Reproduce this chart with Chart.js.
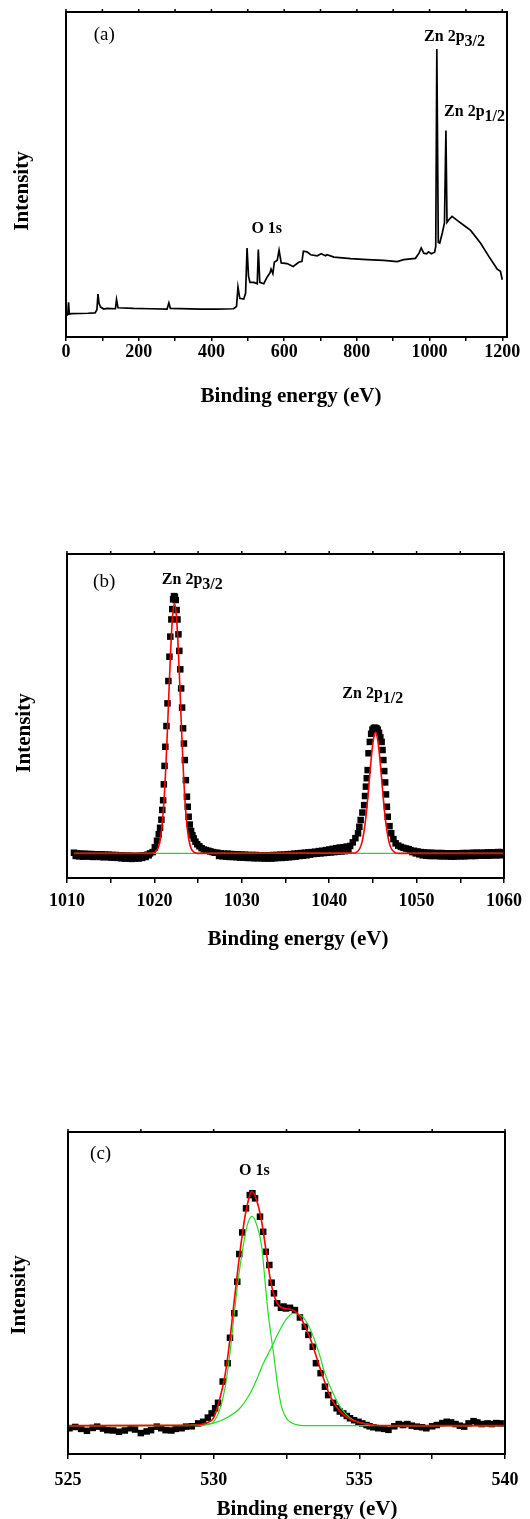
<!DOCTYPE html>
<html>
<head>
<meta charset="utf-8">
<script src="https://cdn.jsdelivr.net/npm/chart.js@4.4.1/dist/chart.umd.min.js"></script>
<style>
  html, body { margin: 0; padding: 0; background: #fff; overflow: hidden; }
  body { width: 530px; height: 1519px; position: relative; }
  canvas { position: absolute; left: 0; }
</style>
</head>
<body>
<canvas id="survey" width="530" height="420" style="top:0px"></canvas>
<canvas id="zn2p" width="530" height="480" style="top:480px"></canvas>
<canvas id="o1s" width="530" height="480" style="top:1060px"></canvas>
<script>
// (a) survey scan
const surveyEnergy = [0, 5, 7, 9, 16, 60, 80, 85, 88, 91, 95, 104, 113, 136, 139, 143, 186, 232, 278, 283,
  287, 370, 416, 461, 469, 473, 478, 489, 494, 498, 502, 506, 517, 526, 529, 533, 544, 553, 561, 564,
  569, 573, 581, 586, 592, 608, 625, 640, 649, 653, 663, 673, 691, 702, 714, 718, 737, 783, 828, 874,
  911, 929, 961, 971, 977, 984, 992, 997, 1005, 1014, 1017, 1020, 1024, 1028, 1035, 1041, 1045, 1048,
  1053, 1062, 1076, 1095, 1113, 1140, 1163, 1186, 1195, 1200];
const surveyCounts = [6.4, 6.9, 10.7, 7.1, 7.2, 7.3, 7.4, 8.4, 13.2, 10.3, 9.2, 8.6, 8.8, 8.7, 11.5, 9.0, 8.8, 8.7, 8.6, 10.5,
  8.8, 8.6, 8.6, 8.7, 9.4, 15.4, 11.9, 11.7, 13.5, 27.4, 18.7, 16.8, 16.8, 16.4, 26.9, 16.8, 16.4, 18.4, 19.7, 20.9,
  19.5, 23.0, 23.6, 26.7, 22.8, 22.6, 21.7, 23.0, 23.3, 26.4, 26.2, 25.3, 25.0, 25.6, 25.0, 25.3, 24.6, 24.1, 23.8, 23.6,
  23.2, 23.8, 24.2, 25.8, 27.4, 25.8, 25.6, 26.2, 25.6, 26.1, 27.9, 88.6, 29.1, 28.9, 32.0, 35.1, 63.5, 35.3,
  36.1, 37.1, 35.9, 34.3, 32.8, 28.9, 24.8, 20.9, 20.2, 17.6];
const surveyTicks = [0, 200, 400, 600, 800, 1000, 1200];

// (b) Zn 2p region: measured points
const zn2pEnergy = [
  1010.8, 1011.0, 1011.2, 1011.4, 1011.6, 1011.8, 1012.0, 1012.2, 1012.4, 1012.6, 1012.8, 1013.0,
  1013.2, 1013.4, 1013.6, 1013.8, 1014.0, 1014.2, 1014.4, 1014.6, 1014.8, 1015.0, 1015.2, 1015.4,
  1015.6, 1015.8, 1016.0, 1016.2, 1016.4, 1016.6, 1016.8, 1017.0, 1017.2, 1017.4, 1017.6, 1017.8,
  1018.0, 1018.2, 1018.4, 1018.6, 1018.8, 1019.0, 1019.2, 1019.35, 1019.5,
  1019.8, 1020.05, 1020.3, 1020.5, 1020.65, 1020.8, 1020.9, 1021.0, 1021.08, 1021.16, 1021.25, 1021.38,
  1021.5, 1021.6, 1021.72, 1021.82, 1021.94, 1022.04, 1022.14, 1022.24, 1022.34, 1022.44, 1022.54, 1022.64,
  1022.75, 1022.85, 1022.96, 1023.06, 1023.17, 1023.28, 1023.38, 1023.48, 1023.6, 1023.72, 1023.82, 1023.92,
  1024.05, 1024.2, 1024.35, 1024.5, 1024.7, 1024.9, 1025.15, 1025.4, 1025.65, 1025.9, 1026.15, 1026.4, 1026.65, 1026.9,
  1027.2, 1027.4, 1027.6, 1027.8, 1028.0, 1028.2, 1028.4, 1028.6, 1028.8, 1029.0, 1029.2, 1029.4,
  1029.6, 1029.8, 1030.0, 1030.2, 1030.4, 1030.6, 1030.8, 1031.0, 1031.2, 1031.4, 1031.6, 1031.8,
  1032.0, 1032.2, 1032.4, 1032.6, 1032.8, 1033.0, 1033.2, 1033.4, 1033.6, 1033.8, 1034.0, 1034.2,
  1034.4, 1034.6, 1034.8, 1035.0, 1035.2, 1035.4, 1035.6, 1035.8, 1036.0, 1036.2, 1036.4, 1036.6,
  1036.8, 1037.0, 1037.2, 1037.4, 1037.6, 1037.8, 1038.0, 1038.2, 1038.4, 1038.6, 1038.8, 1039.0,
  1039.2, 1039.4, 1039.6, 1039.8, 1040.0, 1040.2, 1040.4, 1040.6, 1040.8, 1041.0, 1041.2, 1041.4,
  1041.6, 1041.8, 1042.0, 1042.2, 1042.4, 1042.7, 1043.0, 1043.3, 1043.45, 1043.6,
  1043.8, 1044.0, 1044.1, 1044.2, 1044.3, 1044.4, 1044.5, 1044.65, 1044.8, 1044.95, 1045.1, 1045.25, 1045.4,
  1045.55, 1045.7, 1045.85, 1046.0, 1046.1, 1046.2, 1046.3, 1046.4, 1046.5, 1046.6, 1046.7, 1046.9, 1047.1,
  1047.35, 1047.6, 1047.9, 1048.2, 1048.5, 1048.8, 1049.1,
  1049.3, 1049.5, 1049.7, 1049.9, 1050.1, 1050.3, 1050.5, 1050.7, 1050.9, 1051.1, 1051.3, 1051.5,
  1051.7, 1051.9, 1052.1, 1052.3, 1052.5, 1052.7, 1052.9, 1053.1, 1053.3, 1053.5, 1053.7, 1053.9,
  1054.1, 1054.3, 1054.5, 1054.7, 1054.9, 1055.1, 1055.3, 1055.5, 1055.7, 1055.9, 1056.1, 1056.3,
  1056.5, 1056.7, 1056.9, 1057.1, 1057.3, 1057.5, 1057.7, 1057.9, 1058.1, 1058.3, 1058.5, 1058.7,
  1058.9, 1059.1, 1059.3, 1059.5, 1059.7, 1059.9];
const zn2pCounts = [
  7.8, 6.8, 7.6, 6.7, 7.5, 6.6, 7.5, 6.7, 7.4, 6.6, 7.4, 6.5,
  7.3, 6.6, 7.3, 6.5, 7.3, 6.4, 7.2, 6.5, 7.2, 6.3, 7.1, 6.3,
  7.1, 6.2, 7.0, 6.1, 7.0, 6.0, 6.9, 6.0, 6.9, 5.9, 6.8, 6.0,
  6.8, 6.0, 6.9, 6.2, 7.0, 6.5, 7.2, 7.0, 7.6,
  8.0, 9.5, 11.5, 13.5, 15.5, 18.0, 21.0, 24.0, 28.9, 34.6, 40.5, 46.9,
  53.9, 60.8, 68.3, 74.5, 79.8, 83.0, 86.0, 87.0, 86.8, 85.8, 82.7, 79.8,
  75.2, 70.1, 64.4, 58.5, 52.6, 46.2, 41.5, 36.4, 30.2, 25.1, 22.0, 18.9,
  16.5, 14.5, 13.2, 12.2, 11.2, 10.4, 9.8, 9.2, 8.8, 8.6, 8.4, 8.2, 8.0, 7.8,
  7.8, 6.8, 7.6, 6.7, 7.5, 6.6, 7.5, 6.5, 7.4, 6.5, 7.3, 6.4,
  7.3, 6.3, 7.2, 6.3, 7.2, 6.2, 7.1, 6.2, 7.1, 6.1, 7.1, 6.1,
  7.0, 6.1, 7.0, 6.0, 7.0, 6.0, 7.0, 6.0, 7.1, 6.1, 7.1, 6.2,
  7.2, 6.2, 7.2, 6.3, 7.3, 6.4, 7.4, 6.5, 7.5, 6.6, 7.6, 6.8,
  7.7, 6.9, 7.8, 7.0, 7.9, 7.2, 8.0, 7.4, 8.1, 7.5, 8.3, 7.6,
  8.4, 7.7, 8.6, 7.8, 8.8, 7.9, 9.0, 8.0, 9.2, 8.1, 9.4, 8.2,
  9.5, 8.3, 9.7, 8.4, 9.9, 11.0, 12.3, 13.8, 15.8, 17.9,
  20.2, 22.5, 25.3, 28.2, 30.8, 33.3, 38.5, 42.0, 44.5, 45.8, 46.3, 46.4, 46.2,
  45.8, 44.8, 43.4, 42.0, 39.5, 36.4, 33.0, 29.5, 25.8, 22.0, 18.9, 16.0, 13.8,
  12.0, 10.7, 10.0, 9.6, 9.3, 9.1, 8.9,
  8.6, 8.0, 8.4, 7.6, 8.2, 7.3, 8.0, 7.0, 7.9, 6.9, 7.8, 6.8,
  7.8, 6.8, 7.7, 6.8, 7.7, 6.7, 7.7, 6.7, 7.6, 6.7, 7.6, 6.6,
  7.6, 6.6, 7.6, 6.7, 7.6, 6.7, 7.7, 6.7, 7.7, 6.8, 7.7, 6.8,
  7.8, 6.8, 7.8, 6.9, 7.8, 6.9, 7.8, 6.9, 7.9, 6.9, 7.9, 7.0,
  7.9, 7.0, 8.0, 7.0, 8.0, 7.2];
// (b) fitted envelope and background
const zn2pFitEnergy = [1010.8, 1019.5, 1020.1, 1020.5, 1020.8, 1021.1, 1021.3, 1021.5, 1021.7, 1021.9, 1022.1,
  1022.3, 1022.5, 1022.7, 1022.9, 1023.1, 1023.3, 1023.5, 1023.8, 1024.1, 1024.5, 1025.0,
  1042.8, 1043.1, 1043.5, 1043.8, 1044.1, 1044.3, 1044.5, 1044.7, 1044.9, 1045.1, 1045.3, 1045.5, 1045.7,
  1045.9, 1046.1, 1046.3, 1046.5, 1046.8, 1047.1, 1047.5, 1048.0, 1060.0];
const zn2pFit = [7.6, 7.6, 8.0, 9.9, 14.4, 23.9, 33.8, 46.2, 59.9, 72.5, 81.5,
  84.8, 81.5, 72.5, 59.9, 46.2, 33.8, 23.9, 14.4, 9.9, 8.0, 7.6,
  7.7, 7.9, 9.1, 11.6, 16.6, 21.4, 27.4, 33.7, 39.4, 43.4, 44.9, 43.4, 39.4,
  33.7, 27.4, 21.4, 16.6, 11.6, 9.1, 7.9, 7.6, 7.6];
const zn2pBaseEnergy = [1010.8, 1060.0];
const zn2pBase = [7.6, 7.6];
const zn2pTicks = [1010, 1020, 1030, 1040, 1050, 1060];

// (c) O 1s region: measured points
const o1sEnergy = [
  525.05, 525.25, 525.45, 525.65, 525.85, 526.0, 526.2, 526.35, 526.55, 526.75, 526.95, 527.15, 527.3,
  527.5, 527.7, 527.85, 528.05, 528.2, 528.35, 528.55, 528.7, 528.9, 529.05, 529.25, 529.47, 529.64,
  529.8, 529.93, 530.05,
  530.15, 530.31, 530.48, 530.56, 530.71, 530.81, 530.88, 530.98, 531.11, 531.24, 531.33, 531.42, 531.59,
  531.7, 531.79, 531.91, 531.99, 532.07, 532.18, 532.31, 532.4, 532.48, 532.62, 532.79, 532.96, 533.13,
  533.25, 533.4, 533.51, 533.67, 533.82, 533.93, 534.11, 534.22, 534.33, 534.45, 534.57, 534.68, 534.82,
  534.97, 535.1, 535.25, 535.35, 535.48,
  535.65, 535.85, 536.0, 536.2, 536.35, 536.5, 536.65, 536.8, 536.97, 537.15, 537.3, 537.5, 537.66,
  537.85, 538.0, 538.15, 538.3, 538.45, 538.6, 538.75, 538.92, 539.05, 539.2, 539.4, 539.55, 539.7, 539.85];
const o1sCounts = [
  8.0, 8.4, 7.8, 7.2, 8.1, 8.5, 7.9, 7.4, 7.3, 6.9, 7.3, 8.0, 7.6,
  6.5, 7.0, 7.4, 8.5, 8.0, 7.4, 7.3, 7.8, 8.0, 8.5, 8.6, 9.5, 10.0,
  11.3, 12.6, 14.2,
  15.9, 22.5, 28.2, 36.1, 43.7, 53.5, 62.1, 68.8, 76.3, 80.4, 81.0, 79.4, 73.7,
  69.0, 62.8, 58.7, 53.2, 49.9, 46.8, 45.4, 45.8, 45.2, 45.4, 44.7, 42.4, 39.5,
  37.0, 33.3, 28.2, 25.1, 20.9, 18.3, 15.9, 14.2, 13.2, 12.6, 11.8, 11.1, 10.5,
  10.0, 9.5, 9.0, 8.6, 8.3,
  8.0, 7.8, 7.5, 8.6, 9.3, 9.0, 9.3, 8.8, 8.5, 8.3, 8.0, 8.6, 9.0,
  9.6, 10.0, 9.8, 9.3, 8.8, 8.5, 9.5, 10.2, 9.8, 9.3, 9.5, 9.3, 9.6, 9.5];
// (c) fitted envelope and its two components
const o1sFitEnergy = [525.0, 529.0, 529.5, 529.8, 530.0, 530.2, 530.4, 530.55, 530.67, 530.8, 530.95, 531.1,
  531.32, 531.5, 531.65, 531.8, 531.95, 532.1, 532.25, 532.45, 532.65, 532.8, 532.95, 533.15, 533.35,
  533.55, 533.75, 533.95, 534.15, 534.4, 534.7, 535.0, 535.4, 536.0, 540.0];
const o1sFit = [8.8, 8.9, 9.1, 9.8, 11.2, 16.8, 25.0, 35.0, 44.7, 55.0, 66.0, 75.0,
  81.5, 78.0, 72.0, 63.0, 54.0, 48.5, 46.0, 45.2, 44.9, 44.3, 42.8, 39.5, 35.0,
  29.5, 24.0, 19.0, 15.5, 12.7, 10.7, 9.8, 9.1, 8.8, 8.8];
const o1sPeakAEnergy = [525.0, 529.5, 529.8, 530.0, 530.2, 530.4, 530.58, 530.7, 530.84, 531.01, 531.15,
  531.32, 531.5, 531.65, 531.76, 531.87, 531.99, 532.07, 532.2, 532.35, 532.55, 532.8, 533.2, 540.0];
const o1sPeakA = [8.8, 8.8, 9.2, 10.0, 13.5, 21.0, 33.0, 43.0, 54.0, 64.4, 71.0,
  73.8, 70.5, 64.4, 54.0, 43.7, 35.4, 30.2, 21.0, 14.0, 10.5, 9.2, 8.8, 8.8];
const o1sPeakBEnergy = [525.0, 529.0, 529.5, 530.0, 530.5, 530.9, 531.2, 531.47, 531.7, 531.95, 532.27,
  532.5, 532.73, 532.9, 533.08, 533.25, 533.42, 533.65, 533.8, 534.0, 534.17, 534.34, 534.55, 534.8,
  535.1, 535.48, 536.0, 540.0];
const o1sPeakB = [8.8, 8.9, 9.1, 9.6, 11.5, 14.2, 18.0, 23.0, 28.0, 32.5, 38.5,
  42.0, 43.7, 43.4, 42.4, 40.0, 36.5, 30.3, 25.5, 20.9, 17.5, 14.7, 12.3, 10.5,
  9.6, 9.0, 8.8, 8.8];
const o1sTicks = [525, 530, 535, 540];

Chart.defaults.font.family = "'Liberation Serif', 'Times New Roman', serif";
Chart.defaults.color = '#000';

const pairs = (xs, ys) => xs.map((x, i) => ({ x: x, y: ys[i] }));

// box round the plot, small ticks on the top edge, axis titles and peak labels
const frame = {
  id: 'frame',
  afterDraw(chart, args, o) {
    const { ctx, chartArea: a, scales: { x, y } } = chart;
    ctx.save();
    ctx.strokeStyle = '#000';
    ctx.fillStyle = '#000';
    ctx.lineWidth = 1.5;
    for (const t of x.ticks) {
      const px = x.getPixelForValue(t.value);
      ctx.beginPath();
      ctx.moveTo(px, a.top);
      ctx.lineTo(px, a.top - 3);
      ctx.stroke();
    }
    ctx.lineWidth = 2;
    ctx.strokeRect(a.left, a.top, a.right - a.left, a.bottom - a.top);

    ctx.font = 'bold 21px "Liberation Serif"';
    ctx.textAlign = 'center';
    ctx.textBaseline = 'middle';
    ctx.fillText('Binding energy (eV)', o.xTitle[0], o.xTitle[1]);
    ctx.save();
    ctx.translate(o.yTitle[0], o.yTitle[1]);
    ctx.rotate(-Math.PI / 2);
    ctx.fillText('Intensity', 0, 0);
    ctx.restore();

    for (const n of o.notes) {
      const px = x.getPixelForValue(n.at[0]);
      const py = y.getPixelForValue(n.at[1]);
      ctx.font = n.font;
      ctx.textAlign = n.align;
      ctx.fillText(n.text, px, py);
      if (n.sub) {
        const w = ctx.measureText(n.text).width;
        ctx.textAlign = 'left';
        ctx.fillText(n.sub, px + w, py + 5);
      }
    }
    ctx.restore();
  }
};

function xAxis(min, max, step, labels, tickLength, padding, height) {
  return {
    type: 'linear',
    min: min,
    max: max,
    afterFit: (s) => { s.height = height; },
    ticks: {
      stepSize: step,
      autoSkip: false,
      maxRotation: 0,
      includeBounds: false,
      padding: padding,
      font: { size: 18, weight: 'bold' },
      callback: (v) => (labels.includes(v) ? v : ''),
    },
    grid: { drawOnChartArea: false, drawTicks: true, tickLength: tickLength, color: '#000', lineWidth: 1.5 },
    border: { display: false },
    title: { display: false },
  };
}

function makeChart(id, datasets, x, padding, frameOpts) {
  return new Chart(document.getElementById(id), {
    type: 'scatter',
    data: { datasets: datasets },
    options: {
      responsive: false,
      animation: false,
      devicePixelRatio: 1,
      layout: { padding: padding },
      plugins: { legend: { display: false }, tooltip: { enabled: false }, frame: frameOpts },
      scales: { x: x, y: { min: 0, max: 100, display: false } },
    },
    plugins: [frame],
  });
}

const boldLabel = 'bold 16px "Liberation Serif"';
const panelLabel = '19px "Liberation Serif"';

function squares(xs, ys) {
  return {
    data: pairs(xs, ys), showLine: false, pointStyle: 'rect', pointRadius: 4.6,
    pointBorderWidth: 0, backgroundColor: '#000', order: 3,
  };
}
function curve(xs, ys, color, width, order) {
  return {
    data: pairs(xs, ys), showLine: true, pointRadius: 0, borderColor: color, borderWidth: width,
    cubicInterpolationMode: 'monotone', order: order,
  };
}

makeChart('survey',
  [{ data: pairs(surveyEnergy, surveyCounts), showLine: true, pointRadius: 0, borderColor: '#000', borderWidth: 1.7, tension: 0 }],
  xAxis(0, 1213, 100, surveyTicks, 4, 1, 83),
  { top: 12, left: 66, right: 23, bottom: 0 },
  {
    xTitle: [291, 397], yTitle: [23, 191],
    notes: [
      { text: '(a)', at: [105, 92.9], font: panelLabel, align: 'center' },
      { text: 'Zn 2p', sub: '3/2', at: [985, 92.2], font: boldLabel, align: 'left' },
      { text: 'Zn 2p', sub: '1/2', at: [1040, 69.2], font: boldLabel, align: 'left' },
      { text: 'O 1s', at: [510, 33.2], font: boldLabel, align: 'left' },
    ],
  });

makeChart('zn2p',
  [
    curve(zn2pFitEnergy, zn2pFit, '#ff0000', 1.6, 1),
    curve(zn2pBaseEnergy, zn2pBase, '#22dd22', 1.2, 2),
    squares(zn2pEnergy, zn2pCounts),
  ],
  xAxis(1010, 1060, 5, zn2pTicks, 5, 8, 82),
  { top: 74, left: 67, right: 23, bottom: 0 },
  {
    xTitle: [298, 460], yTitle: [25, 253],
    notes: [
      { text: '(b)', at: [1014.25, 91.4], font: panelLabel, align: 'center' },
      { text: 'Zn 2p', sub: '3/2', at: [1020.85, 92], font: boldLabel, align: 'left' },
      { text: 'Zn 2p', sub: '1/2', at: [1041.5, 56.8], font: boldLabel, align: 'left' },
    ],
  });

makeChart('o1s',
  [
    curve(o1sFitEnergy, o1sFit, '#ff0000', 1.6, 1),
    curve(o1sPeakAEnergy, o1sPeakA, '#22dd22', 1.2, 2),
    curve(o1sPeakBEnergy, o1sPeakB, '#22dd22', 1.2, 2),
    squares(o1sEnergy, o1sCounts),
  ],
  xAxis(525, 540, 2.5, o1sTicks, 5, 11, 86),
  { top: 72, left: 68, right: 25, bottom: 0 },
  {
    xTitle: [307, 449.5], yTitle: [20, 235],
    notes: [
      { text: '(c)', at: [526.12, 93.2], font: panelLabel, align: 'center' },
      { text: 'O 1s', at: [530.87, 87.9], font: boldLabel, align: 'left' },
    ],
  });
</script>
</body>
</html>
